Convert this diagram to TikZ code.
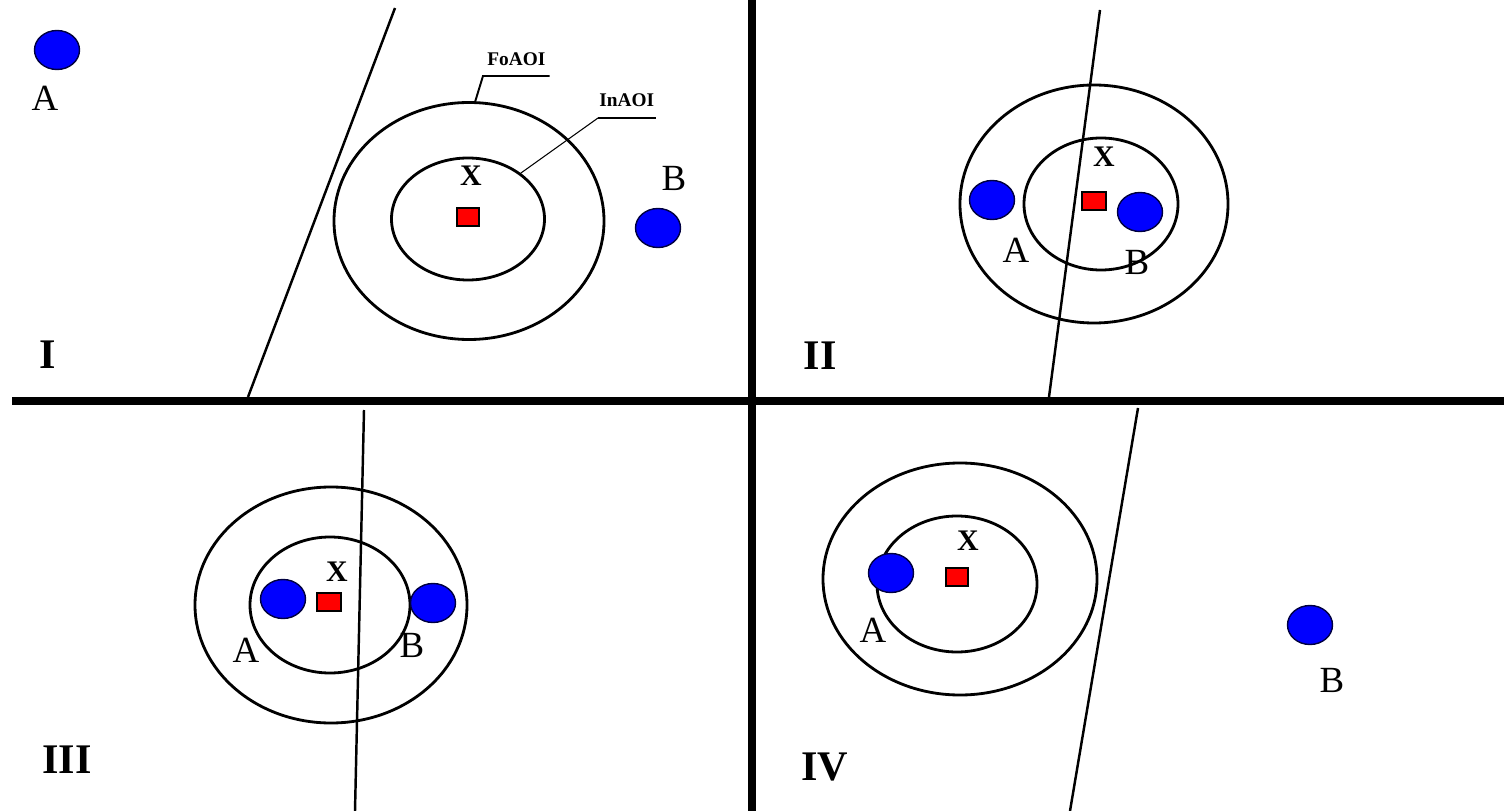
\documentclass[tikz,border=0pt]{standalone}
\usepackage{fontspec}
\setmainfont{Liberation Serif}
\usetikzlibrary{shapes.geometric}

\begin{document}
\begin{tikzpicture}[x=0.2mm,y=-0.2mm,
    dot/.style={ellipse,draw=blue!25!black,line width=0.8pt,fill=blue,minimum width=9mm,minimum height=7.8mm,inner sep=0pt},
    site/.style={rectangle,draw=black,line width=1.5pt,fill=red,minimum width=4.4mm,minimum height=3.6mm,inner sep=0pt},
    outerzone/.style={ellipse,draw,line width=1.6pt,minimum width=54mm,minimum height=47.4mm,inner sep=0pt},
    innerzone/.style={ellipse,draw,line width=1.6pt,minimum width=31.2mm,minimum height=26.4mm,inner sep=0pt},
    lbl/.style={font=\fontsize{21}{21}\selectfont,inner sep=0pt},
    xlbl/.style={font=\bfseries\fontsize{17}{17}\selectfont,inner sep=0pt},
    num/.style={font=\bfseries\fontsize{24}{24}\selectfont,inner sep=0pt},
    tag/.style={font=\bfseries\fontsize{11}{11}\selectfont,anchor=south west,inner xsep=0.8mm,inner ysep=1.9mm},
    ray/.style={line width=1.4pt},
    wall/.style={line width=4.5pt}]

\useasboundingbox[fill=white] (0,0) rectangle (1504,811);

% Dividers between the four panels
\draw[wall] (12,401) -- (1504,401);
\draw[wall] (752,0) -- (752,811);

% Panel I
\draw[ray] (395,8) -- (248,397);
\node[outerzone] (foI) at (469,221) {};
\node[innerzone,minimum width=30.6mm,minimum height=24.4mm] (inI) at (468,219) {};
\node[site] (xI) at (468,217) {};
\node[xlbl] at (471,176) {X};
\node[dot] (aI) at (57,50) {};
\node[lbl] at (45,98) {A};
\node[dot] (bI) at (658,228) {};
\node[lbl] at (674,178) {B};
\node[num] at (48,355) {I};

% Labels of the two zones
\node[tag] (tagFo) at (483,76) {FoAOI};
\node[tag,inner xsep=0.2mm,inner ysep=2.2mm] (tagIn) at (598,118) {InAOI};
\draw[line width=1.1pt] (tagFo.south east) -- (tagFo.south west) -- (foI.87);
\draw[line width=1.1pt] (tagIn.south east) -- (tagIn.south west);
\draw[line width=0.6pt] (tagIn.south west) -- (inI.41);

% Panel II
\draw[ray] (1100,10) -- (1049,397);
\node[outerzone,minimum width=53.6mm,minimum height=47.6mm] (foII) at (1094,204) {};
\node[innerzone,minimum width=30.8mm] (inII) at (1101,204) {};
\node[site,minimum width=4.8mm] (xII) at (1094,201) {};
\node[xlbl] at (1104,157) {X};
\node[dot] (aII) at (992,200) {};
\node[lbl] at (1016,250) {A};
\node[dot] (bII) at (1140,212) {};
\node[lbl] at (1137,262) {B};
\node[num] at (820,356) {II};

% Panel III
\draw[ray] (364,410) -- (355,811);
\node[outerzone,minimum width=54.4mm,minimum height=47.2mm] (foIII) at (331,605) {};
\node[innerzone,minimum width=32mm,minimum height=27.2mm] (inIII) at (330,605) {};
\node[site,minimum width=4.8mm] (xIII) at (329,602) {};
\node[xlbl] at (337,572) {X};
\node[dot] (aIII) at (283,599) {};
\node[lbl] at (246,650) {A};
\node[dot] (bIII) at (433,603) {};
\node[lbl] at (412,645) {B};
\node[num] at (67,760) {III};

% Panel IV
\draw[ray] (1138,408) -- (1070,811);
\node[outerzone,minimum width=54.8mm,minimum height=46.4mm] (foIV) at (960,579) {};
\node[innerzone,minimum width=32mm,minimum height=27.2mm] (inIV) at (957,584) {};
\node[site] (xIV) at (957,577) {};
\node[xlbl] at (968,541) {X};
\node[dot] (aIV) at (891,573) {};
\node[lbl] at (873,630) {A};
\node[dot] (bIV) at (1310,625) {};
\node[lbl] at (1332,680) {B};
\node[num] at (825,767) {IV};

\end{tikzpicture}
\end{document}
